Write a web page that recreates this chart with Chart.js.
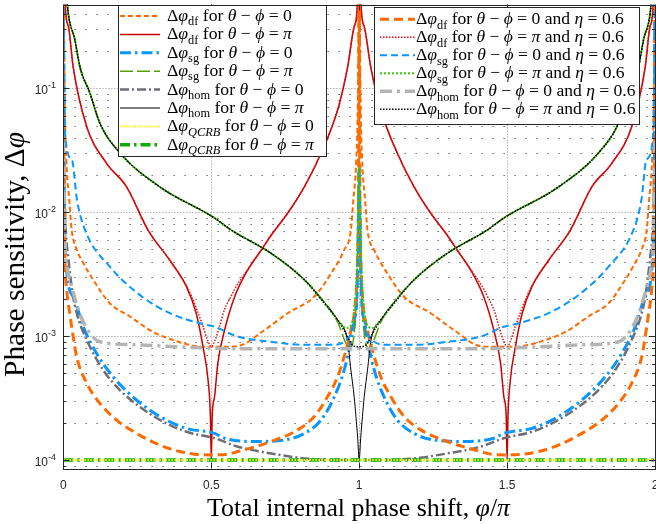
<!DOCTYPE html>
<html><head><meta charset="utf-8">
<script src="https://cdn.jsdelivr.net/npm/chart.js@4"></script>
<style>html,body{margin:0;padding:0;background:#fff;overflow:hidden;}#wrap{position:absolute;left:0;top:0;width:662px;height:524px;}</style>
</head><body><div id="wrap"><canvas id="c" width="662" height="524"></canvas></div>
<script>
// ---------- data (x in units of pi, y = phase sensitivity) ----------
const xTicks = [0, 0.5, 1, 1.5, 2];
const xTickLabels = ['0', '0.5', '1', '1.5', '2'];
const yDecades = [1e-4, 1e-3, 1e-2, 1e-1];
const yDecadeExp = ['-4', '-3', '-2', '-1'];

const xDfZero = [0,0.004,0.01,0.02,0.028,0.045,0.067,0.101,0.157,0.225,0.303,0.371,0.427,0.47,0.5,0.53,0.589,0.68,0.758,0.848,0.905,0.949,0.972,0.98,0.99,0.996,1,1.004,1.01,1.02,1.028,1.051,1.095,1.152,1.242,1.32,1.411,1.47,1.5,1.53,1.573,1.629,1.697,1.775,1.843,1.899,1.933,1.955,1.972,1.98,1.99,1.996,2];
const yDfZero = [2,0.1,0.0264,0.0125,0.0072,0.005,0.0039,0.00284,0.00184,0.00144,0.00108,0.00093,0.00085,0.00082,0.00082,0.00082,0.00083,0.00112,0.00153,0.00208,0.00321,0.00495,0.0072,0.0125,0.0264,0.1,2,0.1,0.0264,0.0125,0.0072,0.00495,0.00321,0.00208,0.00153,0.00112,0.00083,0.00082,0.00082,0.00082,0.00085,0.00093,0.00108,0.00144,0.00184,0.00284,0.0039,0.005,0.0072,0.0125,0.0264,0.1,2];

const xDfPi = [0,0.006,0.017,0.033,0.079,0.146,0.213,0.286,0.359,0.416,0.449,0.472,0.489,0.497,0.5,0.503,0.511,0.522,0.545,0.579,0.623,0.669,0.703,0.758,0.815,0.871,0.927,0.961,0.983,0.994,1,1.006,1.017,1.039,1.073,1.129,1.185,1.242,1.297,1.331,1.377,1.421,1.455,1.478,1.489,1.497,1.5,1.503,1.511,1.528,1.551,1.584,1.641,1.714,1.787,1.854,1.921,1.967,1.983,1.994,2];
const yDfPi = [5,0.48,0.314,0.149,0.049,0.0248,0.0161,0.00718,0.00411,0.00251,0.00153,0.00082,0.000443,0.000224,0.0001,0.000224,0.000324,0.000603,0.00112,0.00208,0.00341,0.00495,0.00655,0.0098,0.0161,0.0299,0.0668,0.149,0.314,0.48,5,0.48,0.314,0.149,0.0668,0.0299,0.0161,0.0098,0.00655,0.00495,0.00341,0.00208,0.00112,0.000603,0.000324,0.000224,0.0001,0.000224,0.000443,0.00082,0.00153,0.00251,0.00411,0.00718,0.0161,0.0248,0.049,0.149,0.314,0.48,5];

const xSgZero = [0,0.002,0.0054,0.033,0.067,0.112,0.168,0.247,0.337,0.416,0.511,0.545,0.646,0.747,0.815,0.871,0.916,0.949,0.972,0.989,0.995,0.998,1,1.002,1.005,1.011,1.028,1.051,1.084,1.129,1.185,1.253,1.354,1.455,1.489,1.584,1.663,1.753,1.832,1.888,1.933,1.967,1.9946,1.998,2];
const ySgZero = [0.3,0.03,0.0053,0.00208,0.00119,0.000726,0.00047,0.000305,0.000217,0.00018,0.000164,0.00015,0.000141,0.000145,0.000164,0.00021,0.000324,0.00053,0.00093,0.00173,0.0039,0.0126,0.023,0.0126,0.0039,0.00173,0.00093,0.00053,0.000324,0.00021,0.000164,0.000145,0.000141,0.00015,0.000164,0.00018,0.000217,0.000305,0.00047,0.000726,0.00119,0.00208,0.0053,0.03,0.3];

const xSgPi = [0,0.009,0.013,0.039,0.056,0.09,0.123,0.191,0.326,0.511,0.567,0.702,0.815,0.871,0.927,0.955,0.966,0.977,0.985,0.991,0.994,0.9975,1,1.0025,1.006,1.009,1.015,1.023,1.034,1.045,1.073,1.129,1.185,1.298,1.433,1.489,1.674,1.809,1.877,1.91,1.944,1.961,1.987,1.991,2];
const ySgPi = [5,0.7,0.48,0.245,0.1486,0.091,0.0525,0.0301,0.016,0.00898,0.00718,0.00466,0.00284,0.00202,0.0013,0.000875,0.0008,0.00085,0.00119,0.00221,0.0041,0.0126,0.023,0.0126,0.0041,0.00221,0.00119,0.00085,0.0008,0.000875,0.0013,0.00202,0.00284,0.00466,0.00718,0.00898,0.016,0.0301,0.0525,0.091,0.1486,0.245,0.48,0.7,5];

const xHomZero = [0,0.003,0.006,0.009,0.0155,0.03,0.045,0.079,0.135,0.191,0.258,0.337,0.416,0.511,0.59,0.702,0.815,0.927,1,1.073,1.185,1.298,1.41,1.489,1.584,1.663,1.742,1.809,1.865,1.921,1.955,1.97,1.9845,1.991,1.994,1.997,2];
const yHomZero = [0.038,0.02,0.0095,0.0065,0.0045,0.0023,0.00153,0.00093,0.00053,0.000367,0.000269,0.000204,0.000169,0.00015,0.000128,0.000113,0.000103,0.0001,0.0001,0.0001,0.000103,0.000113,0.000128,0.00015,0.000169,0.000204,0.000269,0.000367,0.00053,0.00093,0.00153,0.0023,0.0045,0.0065,0.0095,0.02,0.038];

const xHomPi = [0,0.009,0.013,0.039,0.056,0.09,0.123,0.191,0.326,0.511,0.567,0.702,0.815,0.871,0.927,0.96,0.972,0.983,0.989,0.995,1,1.005,1.011,1.017,1.028,1.04,1.073,1.129,1.185,1.298,1.433,1.489,1.674,1.809,1.877,1.91,1.944,1.961,1.987,1.991,2];
const yHomPi = [5,0.7,0.48,0.245,0.1486,0.091,0.0525,0.0301,0.016,0.00898,0.00718,0.00466,0.00284,0.00202,0.00135,0.00093,0.00053,0.000324,0.000224,0.00015,0.0001,0.00015,0.000224,0.000324,0.00053,0.00093,0.00135,0.00202,0.00284,0.00466,0.00718,0.00898,0.016,0.0301,0.0525,0.091,0.1486,0.245,0.48,0.7,5];

const xQcrbZero = [0, 2];
const yQcrbZero = [1e-4, 1e-4];
const xQcrbPi = [0, 2];
const yQcrbPi = [1e-4, 1e-4];

const xDfZeroEta = [0,0.002,0.005,0.011,0.022,0.028,0.045,0.079,0.123,0.18,0.247,0.326,0.393,0.45,0.5,0.55,0.59,0.702,0.792,0.848,0.893,0.927,0.949,0.972,0.989,0.995,0.998,1,1.002,1.005,1.011,1.028,1.051,1.073,1.107,1.152,1.208,1.298,1.41,1.45,1.5,1.55,1.607,1.674,1.753,1.82,1.877,1.921,1.955,1.972,1.978,1.989,1.995,1.998,2];
const yDfZeroEta = [2,0.02,0.0045,0.0024,0.0015,0.00119,0.00068,0.000416,0.000287,0.00021,0.000164,0.000132,0.000117,0.000111,0.00011,0.000111,0.000117,0.000141,0.000175,0.000224,0.000324,0.00047,0.00068,0.00112,0.00208,0.0045,0.02,2,0.02,0.0045,0.00208,0.00112,0.00068,0.00047,0.000324,0.000224,0.000175,0.000141,0.000117,0.000111,0.00011,0.000111,0.000117,0.000132,0.000164,0.00021,0.000287,0.000416,0.00068,0.00119,0.0015,0.0024,0.0045,0.02,2];

const xDfPiEta = [0,0.006,0.017,0.033,0.079,0.146,0.213,0.286,0.359,0.416,0.433,0.455,0.472,0.488,0.5,0.512,0.528,0.545,0.567,0.579,0.623,0.669,0.703,0.758,0.815,0.871,0.927,0.961,0.983,0.994,1,1.006,1.017,1.039,1.073,1.129,1.185,1.242,1.297,1.331,1.377,1.421,1.433,1.455,1.472,1.488,1.5,1.512,1.528,1.545,1.567,1.584,1.641,1.714,1.787,1.854,1.921,1.967,1.983,1.994,2];
const yDfPiEta = [5,0.48,0.314,0.149,0.049,0.0248,0.0161,0.00718,0.00411,0.00255,0.0021,0.00155,0.0012,0.00092,0.00082,0.00092,0.0012,0.00165,0.0021,0.0024,0.00345,0.00497,0.00657,0.0098,0.0161,0.0299,0.0668,0.149,0.314,0.48,5,0.48,0.314,0.149,0.0668,0.0299,0.0161,0.0098,0.00657,0.00497,0.00345,0.0024,0.0021,0.00165,0.0012,0.00092,0.00082,0.00092,0.0012,0.00155,0.0021,0.00255,0.00411,0.00718,0.0161,0.0248,0.049,0.149,0.314,0.48,5];

const xSgZeroEta = [0,0.0054,0.029,0.046,0.073,0.157,0.258,0.36,0.461,0.511,0.59,0.702,0.815,0.905,0.949,0.972,0.983,0.994,0.998,1,1.002,1.006,1.017,1.028,1.051,1.095,1.185,1.298,1.41,1.489,1.539,1.64,1.742,1.843,1.927,1.954,1.971,1.9946,2];
const ySgZeroEta = [1,0.0435,0.0264,0.01254,0.0072,0.00363,0.00215,0.00153,0.00127,0.00119,0.00099,0.0009,0.00085,0.00085,0.0009,0.00105,0.00135,0.00208,0.0126,0.023,0.0126,0.00208,0.00135,0.00105,0.0009,0.00085,0.00085,0.0009,0.00099,0.00119,0.00127,0.00153,0.00215,0.00363,0.0072,0.01254,0.0264,0.0435,1];

const xSgPiEta = [0,0.009,0.013,0.039,0.056,0.09,0.123,0.191,0.326,0.511,0.567,0.702,0.815,0.871,0.927,0.94,0.955,0.97,0.985,0.993,0.9975,1,1.0025,1.007,1.015,1.03,1.045,1.06,1.073,1.129,1.185,1.298,1.433,1.489,1.674,1.809,1.877,1.91,1.944,1.961,1.987,1.991,2];
const ySgPiEta = [5,0.7,0.48,0.245,0.1486,0.091,0.0525,0.0301,0.016,0.00898,0.00718,0.00466,0.00284,0.00202,0.00135,0.00125,0.00116,0.0012,0.0018,0.004,0.0126,0.023,0.0126,0.004,0.0018,0.0012,0.00116,0.00125,0.00135,0.00202,0.00284,0.00466,0.00718,0.00898,0.016,0.0301,0.0525,0.091,0.1486,0.245,0.48,0.7,5];

const xHomZeroEta = [0,0.003,0.006,0.012,0.028,0.056,0.09,0.123,0.247,0.438,0.6,1,1.4,1.562,1.753,1.877,1.91,1.944,1.972,1.988,1.994,1.997,2];
const yHomZeroEta = [0.037,0.015,0.0055,0.0037,0.0025,0.0015,0.00105,0.0009,0.00085,0.00081,0.00079,0.00079,0.00079,0.00081,0.00085,0.0009,0.00105,0.0015,0.0025,0.0037,0.0055,0.015,0.037];

const xHomPiEta = [0,0.009,0.013,0.039,0.056,0.09,0.123,0.191,0.326,0.511,0.567,0.702,0.815,0.882,0.927,0.955,0.972,0.983,1,1.017,1.028,1.045,1.073,1.118,1.185,1.298,1.433,1.489,1.674,1.809,1.877,1.91,1.944,1.961,1.987,1.991,2];
const yHomPiEta = [5,0.7,0.48,0.245,0.1486,0.091,0.0525,0.0301,0.016,0.00898,0.00718,0.00466,0.00284,0.00184,0.00135,0.00105,0.000875,0.00083,0.00082,0.00083,0.000875,0.00105,0.00135,0.00184,0.00284,0.00466,0.00718,0.00898,0.016,0.0301,0.0525,0.091,0.1486,0.245,0.48,0.7,5];

// ---------- styles ----------
const FS = '"Liberation Serif","DejaVu Serif",serif';
const FA = '"Liberation Sans",Arial,sans-serif';
const series = [
  {x:xDfZero, y:yDfZero, color:'#ff6a00', w:2, dash:[5,3], sub:'df', tail:'0', z:14},
  {x:xDfPi, y:yDfPi, color:'#cc0000', w:1.5, dash:[], sub:'df', tail:'pi', z:13},
  {x:xSgZero, y:ySgZero, color:'#0a96ff', w:3, dash:[11,4,2.5,4], sub:'sg', tail:'0', z:12},
  {x:xSgPi, y:ySgPi, color:'#5a9e00', w:1.5, dash:[13,4], sub:'sg', tail:'pi', z:11},
  {x:xHomZero, y:yHomZero, color:'#6e6e76', w:2.5, dash:[9,3,2,3], sub:'hom', tail:'0', z:10},
  {x:xHomPi, y:yHomPi, color:'#000000', w:1, dash:[], sub:'hom', tail:'pi', z:9},
  {x:xQcrbZero, y:yQcrbZero, color:'#ffff00', w:2, dash:[1.5,1.5], sub:'QCRB', tail:'0', subi:true, z:7},
  {x:xQcrbPi, y:yQcrbPi, color:'#11aa00', w:3.5, dash:[10,4,2.5,4], sub:'QCRB', tail:'pi', subi:true, z:8},
  {x:xDfZeroEta, y:yDfZeroEta, color:'#ff6a00', w:3, dash:[9,5], sub:'df', tail:'0e', z:6},
  {x:xDfPiEta, y:yDfPiEta, color:'#e01010', w:1.5, dash:[1.5,1.5], sub:'df', tail:'pie', z:5},
  {x:xSgZeroEta, y:ySgZeroEta, color:'#0a96ff', w:2, dash:[7,4], sub:'sg', tail:'0e', z:4},
  {x:xSgPiEta, y:ySgPiEta, color:'#33cc00', w:2, dash:[2,2], sub:'sg', tail:'pie', z:3},
  {x:xHomZeroEta, y:yHomZeroEta, color:'#b4b4b4', w:3.5, dash:[12,5,3,5], sub:'hom', tail:'0e', z:2},
  {x:xHomPiEta, y:yHomPiEta, color:'#000000', w:1.5, dash:[1.5,1.5], sub:'hom', tail:'pie', z:1}
];

function legendParts(s){
  const p = [['Δ','r'],['φ','i'],[s.sub, s.subi?'subi':'sub'],[' for ','r'],['θ','i'],[' − ','r'],['ϕ','i'],[' = ','r']];
  if (s.tail==='0') p.push(['0','r']);
  if (s.tail==='pi') p.push(['π','i']);
  if (s.tail==='0e') p.push(['0 and ','r'],['η','i'],[' = 0.6','r']);
  if (s.tail==='pie') p.push(['π','i'],[' and ','r'],['η','i'],[' = 0.6','r']);
  return p;
}
function setF(ctx,k,size){
  const it = (k==='i'||k==='subi')?'italic ':'';
  const fs = (k==='sub'||k==='subi')?size*0.7:size;
  ctx.font = it + fs.toFixed(2) + 'px ' + FS;
}
function richWidth(ctx, parts, size){
  let w=0; for (const [t,k] of parts){ setF(ctx,k,size); w+=ctx.measureText(t).width; } return w;
}
function drawRich(ctx, x, y, parts, size){
  let cx=x;
  for (const [t,k] of parts){
    setF(ctx,k,size);
    const dy = (k==='sub'||k==='subi')? size*0.24 : 0;
    ctx.fillText(t, cx, y+dy);
    cx += ctx.measureText(t).width;
  }
}
function fitSize(ctx, parts, target){ return 20*target/richWidth(ctx, parts, 20); }

const decor = {
  id:'decor',
  beforeDatasetsDraw(chart){
    const ctx=chart.ctx, a=chart.chartArea, xs=chart.scales.x, ys=chart.scales.y;
    ctx.save();
    ctx.lineWidth=1;
    ctx.strokeStyle='rgba(60,60,60,0.75)'; ctx.setLineDash([1.5,9.5]);
    for (let k=-5;k<=0;k++) for (let m=2;m<=9;m++){
      const v=m*Math.pow(10,k); if (v<=ys.min||v>=ys.max) continue;
      const py=Math.round(ys.getPixelForValue(v))+0.5;
      ctx.beginPath(); ctx.moveTo(a.left,py); ctx.lineTo(a.right,py); ctx.stroke();
    }
    ctx.strokeStyle='rgba(90,90,90,0.7)'; ctx.setLineDash([1,2]);
    for (const v of yDecades){
      const py=Math.round(ys.getPixelForValue(v))+0.5;
      ctx.beginPath(); ctx.moveTo(a.left,py); ctx.lineTo(a.right,py); ctx.stroke();
    }
    for (const v of xTicks){
      if (v<=xs.min||v>=xs.max) continue;
      const px=Math.round(xs.getPixelForValue(v))+0.5;
      ctx.beginPath(); ctx.moveTo(px,a.top); ctx.lineTo(px,a.bottom); ctx.stroke();
    }
    ctx.restore();
  },
  afterDraw(chart){
    const ctx=chart.ctx, a=chart.chartArea, xs=chart.scales.x, ys=chart.scales.y;
    ctx.save();
    ctx.setLineDash([]);
    ctx.strokeStyle='#262626'; ctx.lineWidth=1;
    ctx.strokeRect(Math.round(a.left)+0.5, Math.round(a.top)+0.5, Math.round(a.right-a.left), Math.round(a.bottom-a.top));
    ctx.beginPath();
    for (let k=-5;k<=0;k++) for (let m=1;m<=9;m++){
      const v=m*Math.pow(10,k); if (v<=ys.min||v>=ys.max) continue;
      const py=Math.round(ys.getPixelForValue(v))+0.5, L=(m===1)?6:3;
      ctx.moveTo(a.left,py); ctx.lineTo(a.left+L,py);
      ctx.moveTo(a.right,py); ctx.lineTo(a.right-L,py);
    }
    for (const v of xTicks){
      const px=Math.round(xs.getPixelForValue(v))+0.5;
      ctx.moveTo(px,a.bottom); ctx.lineTo(px,a.bottom-6);
      ctx.moveTo(px,a.top); ctx.lineTo(px,a.top+6);
    }
    ctx.stroke();
    ctx.fillStyle='#262626'; ctx.textBaseline='alphabetic';
    ctx.textAlign='center'; ctx.font='12px '+FA;
    xTicks.forEach((v,i)=>{ ctx.fillText(xTickLabels[i], xs.getPixelForValue(v), 489); });
    ctx.textAlign='left';
    yDecades.forEach((v,i)=>{
      const py=ys.getPixelForValue(v);
      ctx.font='9px '+FA; const sw=ctx.measureText(yDecadeExp[i]).width;
      ctx.font='12px '+FA; const bw=ctx.measureText('10').width;
      const x0=56-sw-bw;
      ctx.fillText('10', x0, py+6);
      ctx.font='9px '+FA; ctx.fillText(yDecadeExp[i], x0+bw, py-0.5);
    });
    ctx.fillStyle='#000';
    const xt=[['Total internal phase shift, ','r'],['φ','i'],['/','r'],['π','i']];
    let sz=fitSize(ctx,xt,303); let w=richWidth(ctx,xt,sz);
    drawRich(ctx, 358.5-w/2, 516, xt, sz);
    const yt=[['Phase sensitivity, ','r'],['Δ','r'],['φ','i']];
    sz=fitSize(ctx,yt,245); w=richWidth(ctx,yt,sz);
    ctx.save(); ctx.translate(24,254.5); ctx.rotate(-Math.PI/2);
    drawRich(ctx, -w/2, 0, yt, sz); ctx.restore();
    function legend(items, box, rowY0, rowDy, lx0, lx1, tx, target){
      ctx.fillStyle='#fff'; ctx.fillRect(box[0],box[1],box[2]-box[0],box[3]-box[1]);
      ctx.strokeStyle='#262626'; ctx.lineWidth=1; ctx.setLineDash([]);
      ctx.strokeRect(box[0]+0.5,box[1]+0.5,box[2]-box[0],box[3]-box[1]);
      const size=fitSize(ctx, legendParts(items[0]), target);
      items.forEach((s,i)=>{
        const cy=rowY0+i*rowDy;
        ctx.strokeStyle=s.color; ctx.lineWidth=s.w; ctx.setLineDash(s.dash); ctx.lineCap='butt';
        ctx.beginPath(); ctx.moveTo(lx0,cy); ctx.lineTo(lx1,cy); ctx.stroke();
        ctx.setLineDash([]);
        ctx.fillStyle='#000';
        drawRich(ctx, tx, cy+5, legendParts(s), size);
      });
    }
    legend(series.slice(0,8), [118,5,326,156], 16, 18.4, 120, 160, 167, 125);
    legend(series.slice(8), [374,7,639,124], 19.3, 18, 380, 415, 416, 208);
    ctx.restore();
  }
};

const datasets = series.map((s)=>({
  data: s.x.map((xv,j)=>({x:xv, y:s.y[j]})),
  borderColor: s.color, borderWidth: s.w, borderDash: s.dash,
  pointRadius: 0, fill: false, cubicInterpolationMode: 'monotone',
  clip: 0, order: s.z
}));

new Chart(document.getElementById('c'), {
  type: 'line',
  data: { datasets },
  options: {
    responsive: false, devicePixelRatio: 1, animation: false, events: [],
    layout: { padding: { left: 0, right: 7, top: 4.5, bottom: 0 } },
    plugins: { legend: { display: false }, tooltip: { enabled: false } },
    scales: {
      x: { type: 'linear', min: 0, max: 2, grid: { display: false }, border: { display: false },
           ticks: { display: false }, afterFit: (s) => { s.height = 55.5; } },
      y: { type: 'logarithmic', min: 8.54e-5, max: 0.4745, grid: { display: false }, border: { display: false },
           ticks: { display: false }, afterFit: (s) => { s.width = 63.4; } }
    }
  },
  plugins: [decor]
});
</script></body></html>
